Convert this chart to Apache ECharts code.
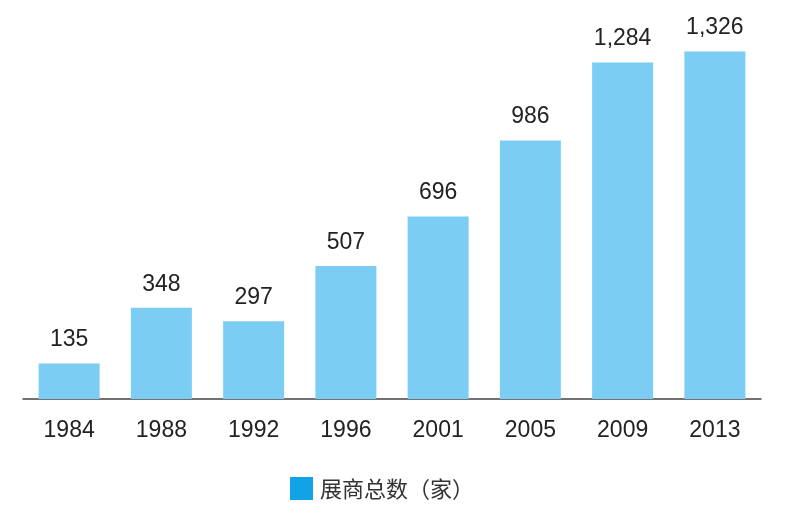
<!DOCTYPE html>
<html>
<head>
<meta charset="utf-8">
<script src="https://cdn.jsdelivr.net/npm/echarts@6/dist/echarts.min.js"></script>
<style>html,body{margin:0;padding:0;background:#fff;}#c{width:800px;height:530px;}</style>
</head>
<body>
<div id="c"></div>
<script>
const years = ['1984','1988','1992','1996','2001','2005','2009','2013'];
const exhibitors = [135, 348, 297, 507, 696, 986, 1284, 1326];
const seriesName = '展商总数（家）';

const chart = echarts.init(document.getElementById('c'));
chart.setOption({
  animation: false,
  backgroundColor: '#fff',
  textStyle: { fontFamily: '"Liberation Sans", Arial, "Noto Sans CJK SC", sans-serif' },
  grid: { left: 23, right: 39, top: 32, bottom: 131, containLabel: false },
  legend: {
    data: [{ name: seriesName, itemStyle: { color: '#12a3e6' } }],
    left: 285, top: 472,
    itemWidth: 23, itemHeight: 23, itemGap: 10,
    icon: 'rect',
    textStyle: { fontSize: 22, color: '#333', fontFamily: '"Noto Sans CJK SC", sans-serif', padding: [0,0,0,2] }
  },
  xAxis: {
    type: 'category',
    data: years,
    axisLine: { lineStyle: { color: '#444', width: 1.5 } },
    axisTick: { show: false },
    axisLabel: { fontSize: 23, color: '#222', margin: 20, fontFamily: '"Liberation Sans", Arial, sans-serif' }
  },
  yAxis: {
    type: 'value', min: 0, max: 1400, show: false,
    splitLine: { show: false }
  },
  series: [{
    name: seriesName,
    type: 'bar',
    data: exhibitors,
    barWidth: 61,
    itemStyle: { color: '#7ccdf4' },
    label: {
      show: true, position: 'top', distance: 12,
      fontSize: 23, color: '#222',
      fontFamily: '"Liberation Sans", Arial, sans-serif',
      formatter: p => p.value.toLocaleString('en-US')
    }
  }]
});
</script>
</body>
</html>
